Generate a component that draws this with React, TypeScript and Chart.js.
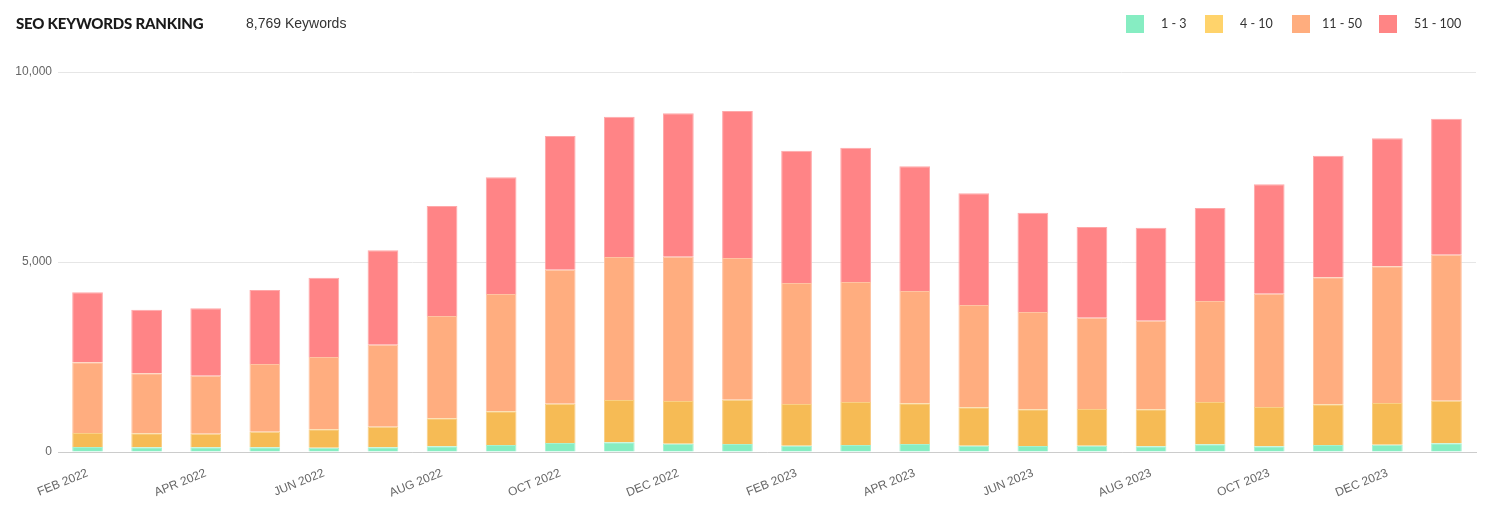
import React, { useEffect, useRef } from "react";
import { Chart, registerables } from "chart.js";

Chart.register(...registerables);

const months = [
  "FEB 2022", "MAR 2022", "APR 2022", "MAY 2022", "JUN 2022", "JUL 2022",
  "AUG 2022", "SEP 2022", "OCT 2022", "NOV 2022", "DEC 2022", "JAN 2023",
  "FEB 2023", "MAR 2023", "APR 2023", "MAY 2023", "JUN 2023", "JUL 2023",
  "AUG 2023", "SEP 2023", "OCT 2023", "NOV 2023", "DEC 2023", "JAN 2024",
];

const rank1to3 = [132, 123, 123, 123, 114, 123, 149, 184, 237, 254, 219, 211, 167, 184, 211, 167, 158, 167, 149, 202, 149, 184, 193, 228];
const rank4to10 = [368, 368, 359, 412, 482, 544, 737, 886, 1035, 1114, 1123, 1166, 1096, 1132, 1070, 1008, 965, 965, 974, 1114, 1035, 1070, 1096, 1123];
const rank11to50 = [1860, 1579, 1527, 1781, 1904, 2158, 2693, 3088, 3526, 3764, 3798, 3728, 3184, 3158, 2956, 2693, 2561, 2403, 2333, 2658, 2983, 3342, 3597, 3842];
const rank51to100 = [1842, 1676, 1772, 1947, 2088, 2482, 2895, 3070, 3518, 3693, 3772, 3869, 3483, 3535, 3281, 2939, 2614, 2386, 2448, 2447, 2877, 3202, 3368, 3579];

const seriesNames = ["1 - 3", "4 - 10", "11 - 50", "51 - 100"];
const barColors = ["#86EDC2", "#F6BB55", "#FFAD7F", "#FF8486"];
const barBorders = ["#A6F2D2", "#F9CF85", "#FFC3A2", "#FFA8A9"];
const legendColors = ["#86EDC2", "#FFD36B", "#FFAD7E", "#FF8585"];
const legendSwatchX = [1126, 1205, 1292, 1379];
const legendTextX = [1161, 1240, 1322, 1414];
const yTicks = [0, 5000, 10000];
const totalKeywords = "8,769 Keywords";

export default function App() {
  const ref = useRef<HTMLCanvasElement | null>(null);

  useEffect(() => {
    if (!ref.current) return;
    const values = [rank1to3, rank4to10, rank11to50, rank51to100];
    const chart = new Chart(ref.current, {
      type: "bar",
      data: {
        labels: months,
        datasets: values.map((d, i) => ({
          label: seriesNames[i],
          data: d,
          backgroundColor: barColors[i],
          borderColor: barBorders[i],
          borderWidth: 1,
          categoryPercentage: 0.8,
          barPercentage: 0.65,
        })),
      },
      options: {
        animation: false,
        responsive: true,
        maintainAspectRatio: false,
        layout: { padding: { top: 72, right: 21, bottom: 0, left: 0 } },
        plugins: { legend: { display: false }, title: { display: false }, tooltip: { enabled: false } },
        scales: {
          x: {
            stacked: true,
            grid: { display: false },
            border: { display: true, color: "#cccccc", width: 1 },
            afterFit: (s: any) => { s.height = 54; },
            ticks: {
              autoSkip: false,
              minRotation: 22,
              maxRotation: 22,
              padding: 6,
              color: "#666666",
              font: { family: "'Liberation Sans', Arial, sans-serif", size: 12 },
              callback: (_v: any, i: number) => (i % 2 === 0 ? months[i] : ""),
            },
          },
          y: {
            stacked: true,
            min: 0,
            max: 10000,
            afterFit: (s: any) => { s.width = 58; },
            afterBuildTicks: (s: any) => { s.ticks = yTicks.map((v) => ({ value: v })); },
            grid: { color: "#e6e6e6", drawTicks: false },
            border: { display: false },
            ticks: {
              padding: 6,
              color: "#666666",
              font: { family: "'Liberation Sans', Arial, sans-serif", size: 12 },
              callback: (v: any) => Number(v).toLocaleString("en-US"),
            },
          },
        },
      },
    });
    return () => chart.destroy();
  }, []);

  return (
    <div style={{ position: "fixed", left: 0, top: 0, width: 1497, height: 506, background: "#fff" }}>
      <div style={{ position: "absolute", left: 0, top: 0, width: 1497, height: 506 }}>
        <canvas ref={ref} />
      </div>
      <div
        style={{
          position: "absolute", left: 16, top: 13, fontFamily: "Lato, sans-serif", fontWeight: 900,
          fontSize: 15, color: "#1a1a1a", letterSpacing: -0.2, lineHeight: "20px", whiteSpace: "nowrap",
        }}
      >
        SEO KEYWORDS RANKING
      </div>
      <div
        style={{
          position: "absolute", left: 246, top: 13, fontFamily: "'Liberation Sans', Arial, sans-serif",
          fontSize: 14, color: "#333", lineHeight: "20px", whiteSpace: "nowrap",
        }}
      >
        {totalKeywords}
      </div>
      {seriesNames.map((n, i) => (
        <React.Fragment key={n}>
          <span
            style={{
              position: "absolute", left: legendSwatchX[i], top: 15, width: 18, height: 18,
              background: legendColors[i],
            }}
          />
          <span
            style={{
              position: "absolute", left: legendTextX[i], top: 15, fontFamily: "Lato, sans-serif",
              fontSize: 12.5, color: "#333", lineHeight: "18px", whiteSpace: "nowrap",
            }}
          >
            {n}
          </span>
        </React.Fragment>
      ))}
    </div>
  );
}
